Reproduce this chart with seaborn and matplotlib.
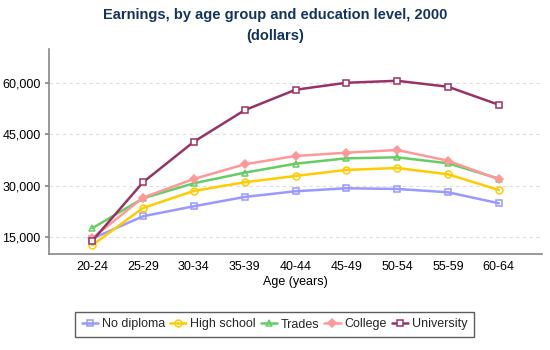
import matplotlib
matplotlib.use("Agg")
import matplotlib.pyplot as plt
import seaborn as sns
import pandas as pd
from matplotlib.ticker import FuncFormatter

ages = ["20-24", "25-29", "30-34", "35-39", "40-44", "45-49", "50-54", "55-59", "60-64"]
no_diploma = [14500, 21050, 23970, 26700, 28360, 29240, 29040, 28070, 24850]
high_school = [12570, 23480, 28450, 31000, 32840, 34600, 35170, 33330, 28740]
trades = [17540, 26300, 30700, 33800, 36430, 38000, 38300, 36550, 32050]
college = [14600, 26500, 31960, 36260, 38680, 39650, 40440, 37300, 31870]
university = [13830, 31000, 42860, 52100, 58070, 60120, 60700, 58950, 53680]

series_names = ["No diploma", "High school", "Trades", "College", "University"]
series_values = [no_diploma, high_school, trades, college, university]
colors = ["#9999FF", "#FFCC00", "#66CC66", "#FF9999", "#993366"]
markers = ["s", "o", "^", "D", "s"]
faces = ["none", "none", "none", "#FF9999", "white"]
msizes = [5, 5, 5, 4, 4]

sns.set_theme(style="white")
plt.rcParams["font.family"] = ["Liberation Sans", "DejaVu Sans"]

fig = plt.figure(figsize=(5.5, 3.5), dpi=100)
ax = fig.add_axes([49 / 550, 1 - 254 / 350, (542 - 49) / 550, (254 - 49) / 350])

for name, vals, c, m, fc, ms in zip(series_names, series_values, colors, markers, faces, msizes):
    df = pd.DataFrame({"Age": ages, "Earnings": vals})
    sns.lineplot(data=df, x="Age", y="Earnings", ax=ax, color=c, marker=m,
                 markerfacecolor=fc, markeredgecolor=c, markeredgewidth=1.1,
                 markersize=ms, linewidth=1.8, label=name)

ax.set_xlim(-0.85, 8.85)
ax.set_ylim(10000, 70000)
ax.set_yticks([15000, 30000, 45000, 60000])
ax.yaxis.set_major_formatter(FuncFormatter(lambda v, p: f"{int(v):,}"))
ax.set_xticks(range(len(ages)))
ax.set_xticklabels(ages)
ax.grid(axis="y", linestyle=(0, (3, 3)), color="#DDDDDD", linewidth=0.8)
ax.grid(axis="x", visible=False)
ax.set_axisbelow(True)
for s in ["top", "right"]:
    ax.spines[s].set_visible(False)
for s in ["left", "bottom"]:
    ax.spines[s].set_color("#888888")
    ax.spines[s].set_linewidth(1.2)
ax.tick_params(axis="y", which="major", length=3, color="#888888", direction="out",
               labelsize=9, labelcolor="black", left=True, pad=3)
ax.tick_params(axis="x", length=0, labelsize=9, labelcolor="black", pad=5)
ax.set_xlabel("Age (years)", fontsize=9, color="black", labelpad=2)
ax.set_ylabel("")

fig.text(0.5, 1 - 15 / 350, "Earnings, by age group and education level, 2000",
         ha="center", va="center", fontsize=10.5, fontweight="bold", color="#13345E")
fig.text(0.5, 1 - 36 / 350, "(dollars)", ha="center", va="center",
         fontsize=10.5, fontweight="bold", color="#13345E")

leg = ax.legend(loc="center", bbox_to_anchor=(274.5 / 550, 1 - 324.5 / 350),
                bbox_transform=fig.transFigure, ncol=5, fontsize=9, frameon=True,
                fancybox=False, edgecolor="#333333", handlelength=1.3,
                handletextpad=0.3, columnspacing=0.4, borderpad=0.55, borderaxespad=0)
leg.get_frame().set_linewidth(1.0)

fig.savefig("out.png", dpi=100)
